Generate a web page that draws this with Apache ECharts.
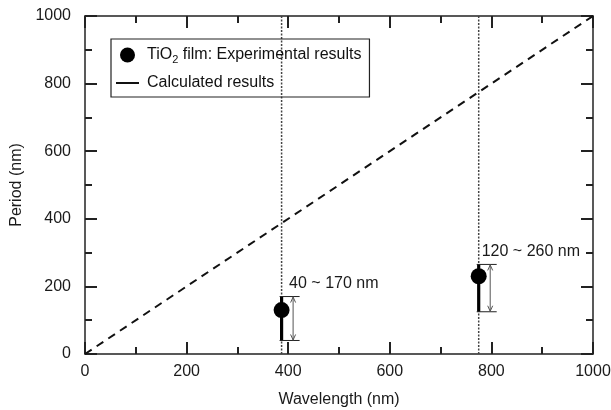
<!DOCTYPE html>
<html>
<head>
<meta charset="utf-8">
<script src="https://cdn.jsdelivr.net/npm/echarts@6/dist/echarts.min.js"></script>
<style>html,body{margin:0;padding:0;background:#fff}#c{width:611px;height:410px}</style>
</head>
<body>
<div id="c"></div>
<script>
// ---- data ----
const xTicks = [0, 200, 400, 600, 800, 1000];
const yTicks = [0, 200, 400, 600, 800, 1000];
const calcWavelength = [0, 1000];
const calcPeriod = [0, 1000];
const expWavelength = [387, 775];
const expPeriod = [130, 230];
const rangeLow = [40, 125];
const rangeHigh = [170, 265];
const rangeLabels = ['40 ~ 170 nm', '120 ~ 260 nm'];
const seriesNames = ['TiO2 film: Experimental results', 'Calculated results'];

const FONT = '"Liberation Sans", Arial, sans-serif';
const chart = echarts.init(document.getElementById('c'), null, {renderer: 'canvas'});

const axisCommon = {
  type: 'value', min: 0, max: 1000, interval: 200,
  axisLine: {show: true, onZero: false, lineStyle: {color: '#222', width: 1.5}},
  axisTick: {show: true, inside: true, length: 12, lineStyle: {color: '#222', width: 2}},
  minorTick: {show: true, splitNumber: 2, length: 7, lineStyle: {color: '#222', width: 2}},
  splitLine: {show: false},
  axisLabel: {color: '#1a1a1a', fontSize: 16, fontFamily: FONT}
};

const option = {
  animation: false,
  backgroundColor: '#fff',
  grid: {left: 85, right: 18, top: 16, bottom: 56, containLabel: false, outerBoundsMode: 'none'},
  legend: {
    orient: 'vertical', left: 111, top: 39,
    data: [
      {name: seriesNames[0]},
      {name: seriesNames[1], itemStyle: {opacity: 0}}
    ],
    borderColor: '#222', borderWidth: 1.2,
    padding: [8, 8, 6, 4],
    itemWidth: 23, itemHeight: 15, itemGap: 10,
    lineStyle: {type: 'solid', width: 2},
    textStyle: {
      color: '#111', fontSize: 16, fontFamily: FONT, padding: [0, 0, 0, 3],
      rich: {
        a: {fontSize: 16, fontFamily: FONT, color: '#111'},
        s: {fontSize: 11, fontFamily: FONT, color: '#111', verticalAlign: 'bottom', padding: [9, 0, 0, 0]}
      }
    },
    formatter: function (name) {
      if (name.indexOf('TiO2') === 0) {
        return '{a|TiO}{s|2}{a|' + name.slice(4) + '}';
      }
      return '{a|' + name + '}';
    }
  },
  xAxis: [
    Object.assign({}, axisCommon, {
      position: 'bottom',
      name: 'Wavelength (nm)', nameLocation: 'middle', nameGap: 38,
      nameTextStyle: {color: '#1a1a1a', fontSize: 16, fontFamily: FONT},
      axisLabel: Object.assign({}, axisCommon.axisLabel, {margin: 10, formatter: v => xTicks.includes(v) ? String(v) : ''})
    }),
    Object.assign({}, axisCommon, {position: 'top', axisLabel: {show: false}})
  ],
  yAxis: [
    Object.assign({}, axisCommon, {
      position: 'left',
      name: 'Period (nm)', nameLocation: 'middle', nameGap: 53, nameRotate: 90,
      nameTextStyle: {color: '#1a1a1a', fontSize: 16, fontFamily: FONT},
      axisLabel: Object.assign({}, axisCommon.axisLabel, {margin: 14, formatter: v => yTicks.includes(v) ? String(v) : ''})
    }),
    Object.assign({}, axisCommon, {position: 'right', axisLabel: {show: false}})
  ],
  series: [
    // dotted vertical guide lines at the experimental wavelengths
    ...expWavelength.map((w, i) => ({
      type: 'line', name: 'guide' + i, silent: true, symbol: 'none', z: 1,
      data: [[w, 0], [w, 1000]],
      lineStyle: {color: '#444', width: 1.5, type: [2, 1.5]}
    })),
    {
      type: 'line', name: seriesNames[1], symbol: 'none', showSymbol: false, z: 2,
      data: calcWavelength.map((w, i) => [w, calcPeriod[i]]),
      itemStyle: {color: '#111'},
      lineStyle: {color: '#111', width: 2, type: [8, 6]}
    },
    {
      type: 'custom', name: 'ranges', z: 3, silent: true,
      data: expWavelength.map((w, i) => [w, rangeLow[i], rangeHigh[i], i]),
      renderItem: function (params, api) {
        const w = api.value(0), lo = api.value(1), hi = api.value(2), idx = api.value(3);
        const pLo = api.coord([w, lo]);
        const pHi = api.coord([w, hi]);
        const x0 = pLo[0];
        const ax = x0 + 11.5;
        const thin = {stroke: '#555', lineWidth: 1, fill: null};
        const cap = {stroke: '#222', lineWidth: 1, fill: null};
        return {
          type: 'group',
          children: [
            {type: 'line', shape: {x1: x0, y1: pLo[1], x2: x0, y2: pHi[1]}, style: {stroke: '#000', lineWidth: 3.2}},
            {type: 'line', shape: {x1: x0 - 2, y1: pLo[1], x2: x0 + 18, y2: pLo[1]}, style: cap},
            {type: 'line', shape: {x1: x0 - 2, y1: pHi[1], x2: x0 + 18, y2: pHi[1]}, style: cap},
            {type: 'line', shape: {x1: ax, y1: pHi[1], x2: ax, y2: pLo[1]}, style: thin},
            {type: 'polyline', shape: {points: [[ax - 2.5, pHi[1] + 6], [ax, pHi[1] + 0.5], [ax + 2.5, pHi[1] + 6]]}, style: thin},
            {type: 'polyline', shape: {points: [[ax - 2.5, pLo[1] - 6], [ax, pLo[1] - 0.5], [ax + 2.5, pLo[1] - 6]]}, style: thin},
            {type: 'text', style: {
              text: rangeLabels[idx], x: x0 + (idx === 0 ? 7.5 : 3), y: pHi[1] - 13,
              verticalAlign: 'middle', align: 'left',
              fill: '#1a1a1a', fontSize: 16, fontFamily: FONT
            }}
          ]
        };
      }
    },
    {
      type: 'scatter', name: seriesNames[0], z: 5,
      symbol: 'circle', symbolSize: 16,
      itemStyle: {color: '#000', opacity: 1},
      data: expWavelength.map((w, i) => [w, expPeriod[i]])
    }
  ]
};
chart.setOption(option);
</script>
</body>
</html>
